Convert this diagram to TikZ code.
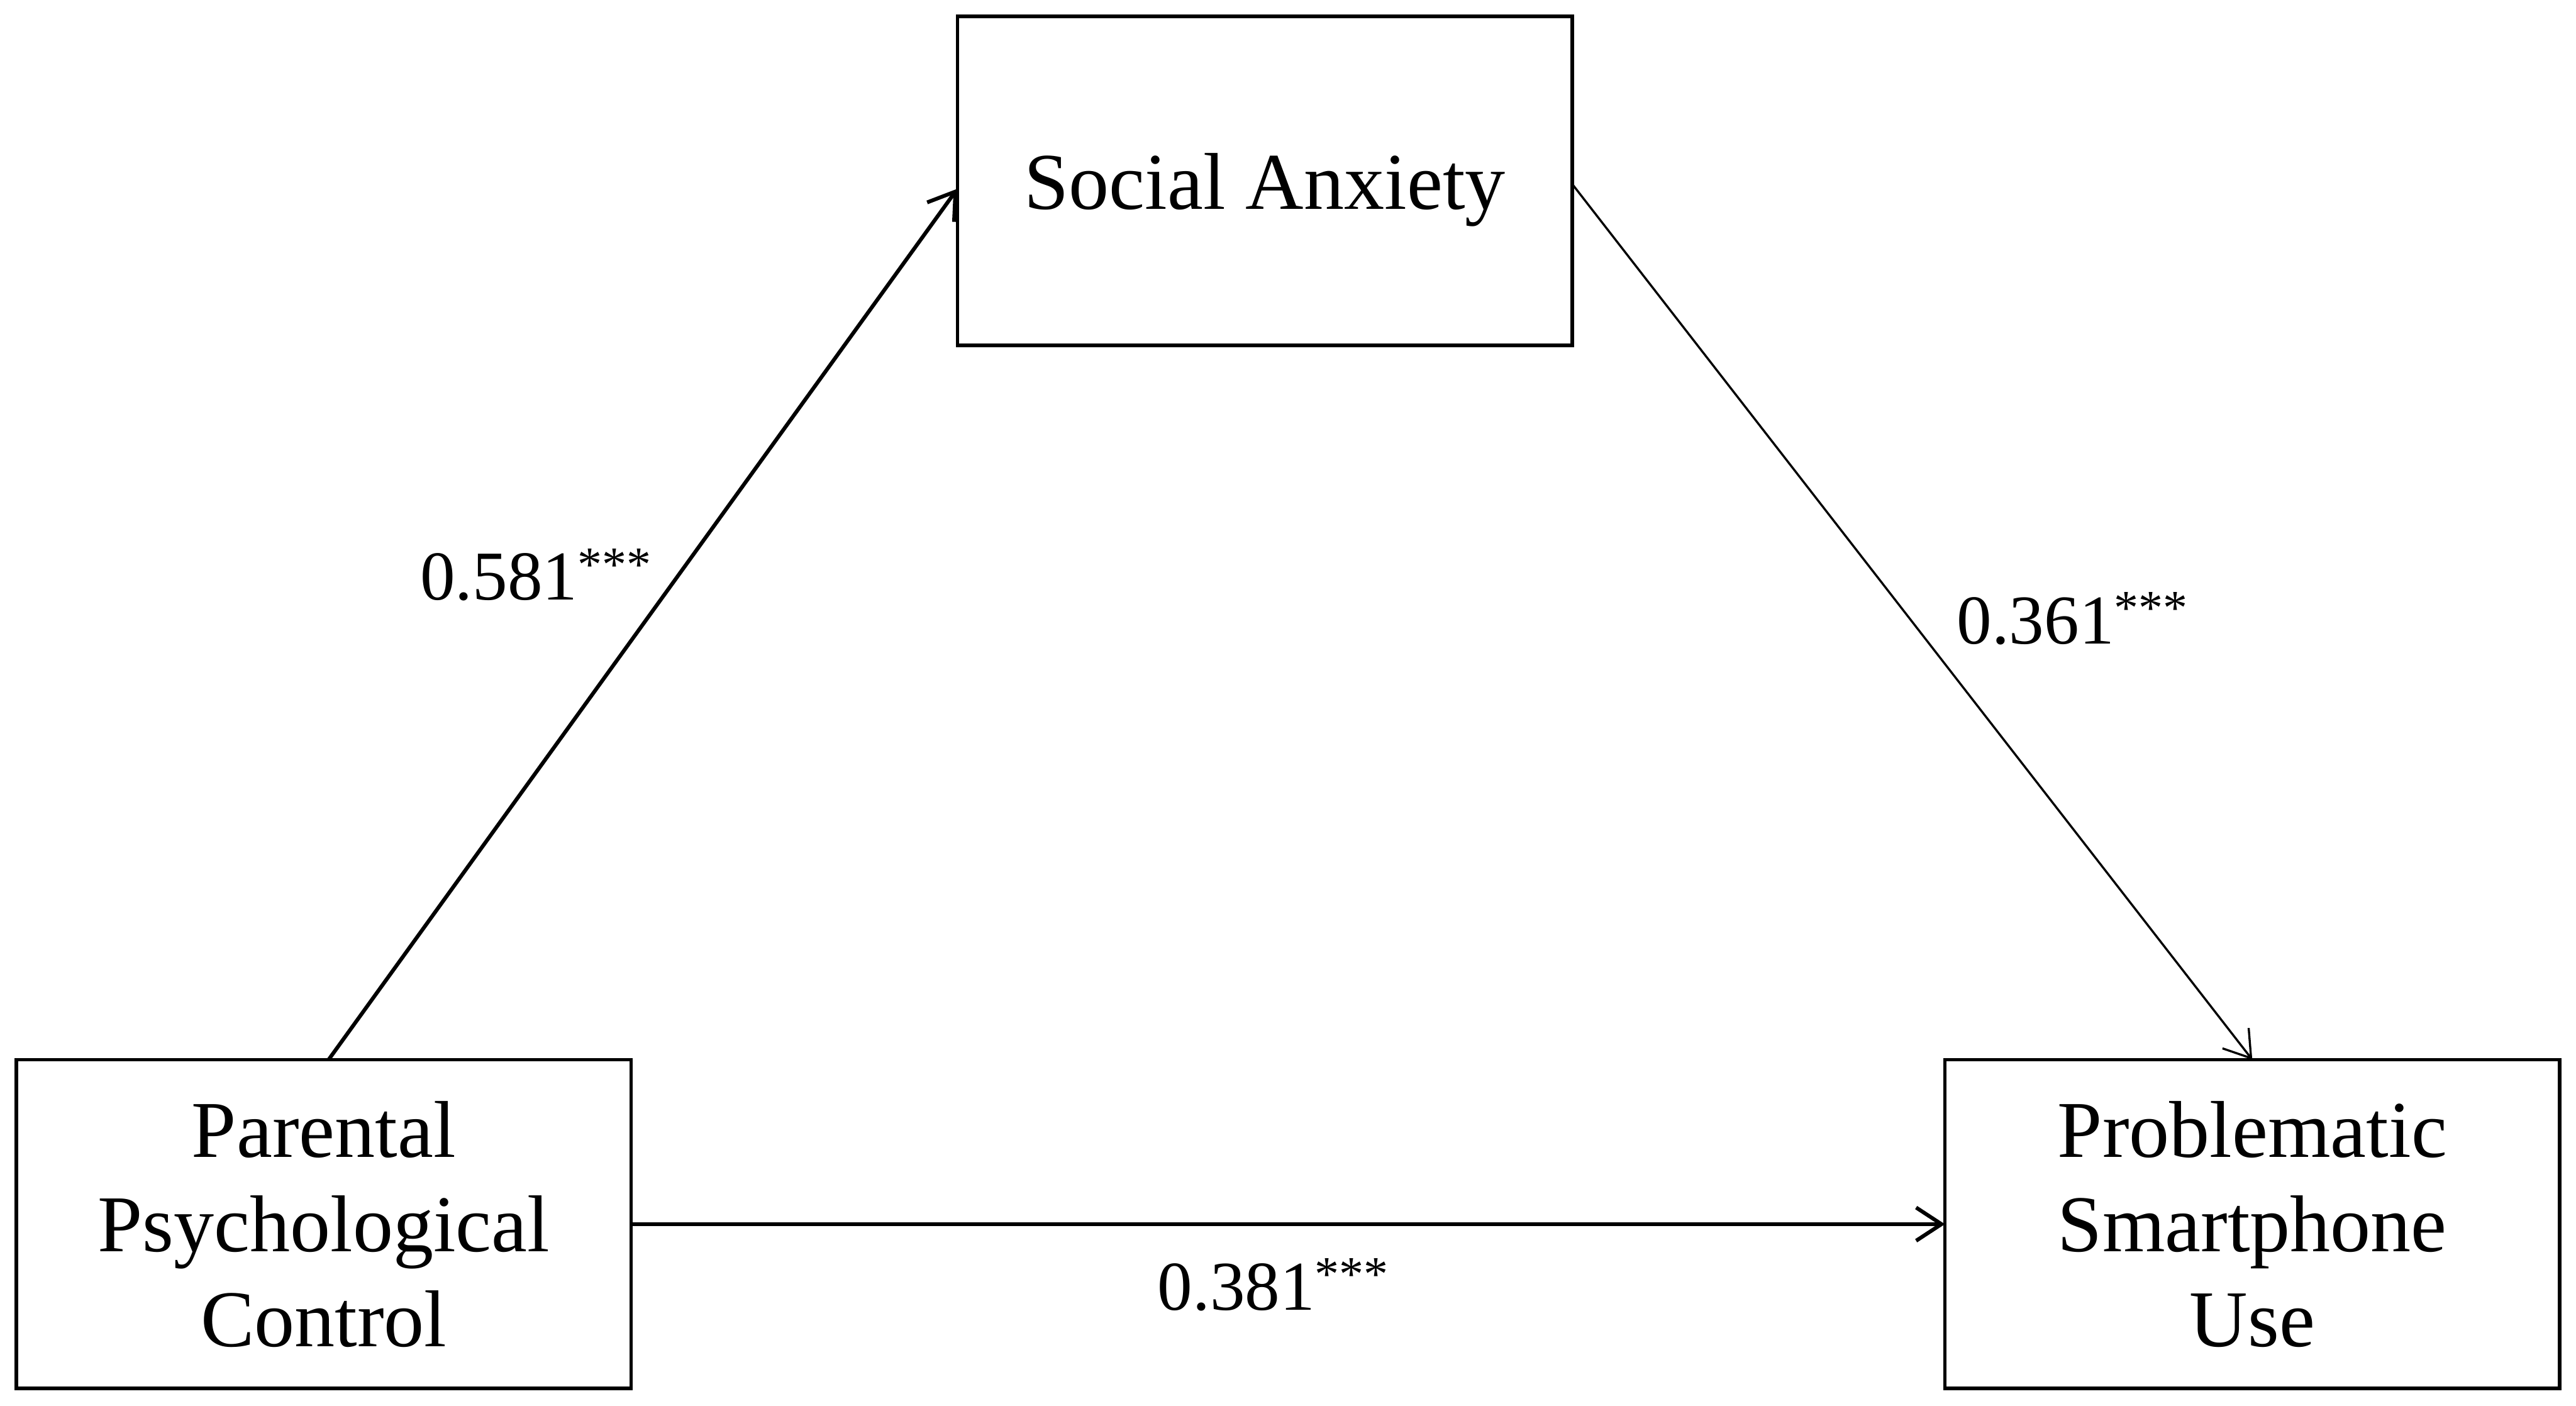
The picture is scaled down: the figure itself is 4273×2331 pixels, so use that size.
\documentclass[tikz,border=0pt]{standalone}
\usepackage{fontspec}
\setmainfont{Liberation Serif}
\usetikzlibrary{arrows.meta}
\begin{document}
\begin{tikzpicture}[x=0.01cm,y=-0.01cm,
  box/.style={draw, line width=1.7pt, minimum width=10.19cm, minimum height=5.45cm,
    inner sep=0pt, outer sep=0pt, align=center, font=\fontsize{38}{44.6}\selectfont},
  thickarrow/.style={line width=1.8pt, -{Straight Barb[length=0.42cm,width=0.55cm,line width=1.8pt]}},
  thinarrow/.style={line width=1pt, -{Straight Barb[length=0.42cm,width=0.55cm,line width=1pt]}},
  lab/.style={font=\fontsize{33}{40}\selectfont, inner sep=0pt}]
\useasboundingbox (0,0) rectangle (4273,2331);
\node[box, text depth=0pt] (sa) at (2098,300) {Social Anxiety};
\node[box] (ppc) at (537,2030) {Parental\\Psychological\\Control};
\node[box] (psu) at (3736,2030) {Problematic\\Smartphone\\Use};
\draw[thickarrow] ([xshift=0.08cm]ppc.north) -- ([yshift=-0.13cm]sa.west)
  node[lab, pos=0.528, anchor=base east, xshift=-0.11cm] {0.581\textsuperscript{***}};
\draw[thinarrow] ([yshift=-0.05cm]sa.east) -- (psu.north)
  node[lab, pos=0.525, anchor=base west, xshift=0.44cm] {0.361\textsuperscript{***}};
\draw[thickarrow] (ppc.east) -- (psu.west)
  node[lab, pos=0.489, anchor=base, yshift=-1.42cm] {0.381\textsuperscript{***}};
\end{tikzpicture}
\end{document}
